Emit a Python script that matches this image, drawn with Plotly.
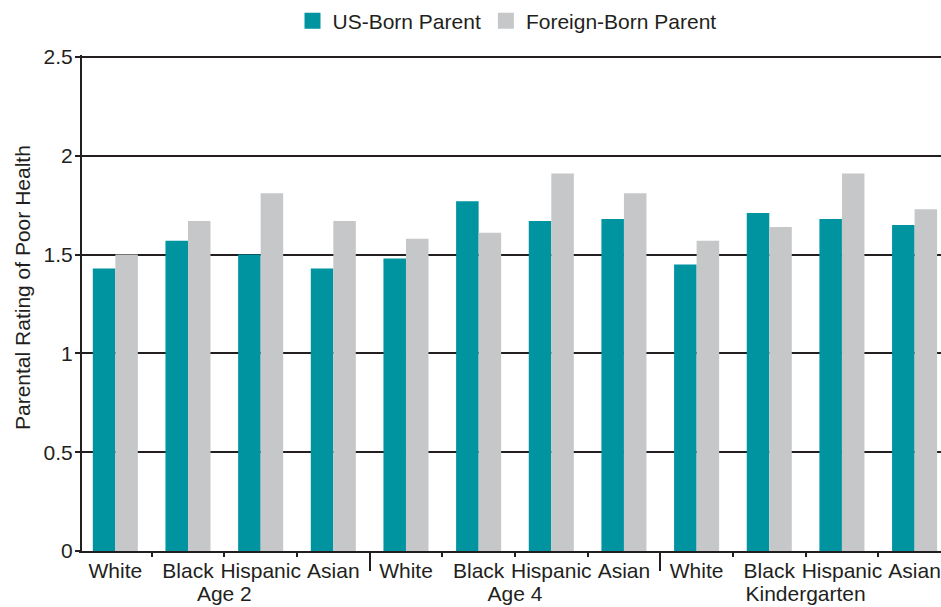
import numpy as np
import plotly.graph_objects as go

# ---- data ----
groups = ["Age 2", "Age 4", "Kindergarten"]
races = ["White", "Black", "Hispanic", "Asian"]
us_born = [1.43, 1.57, 1.50, 1.43, 1.48, 1.77, 1.67, 1.68, 1.45, 1.71, 1.68, 1.65]
foreign_born = [1.50, 1.67, 1.81, 1.67, 1.58, 1.61, 1.91, 1.81, 1.57, 1.64, 1.91, 1.73]
series_names = ["US-Born Parent", "Foreign-Born Parent"]
y_ticks = [0, 0.5, 1, 1.5, 2, 2.5]

# ---- styles ----
TEAL = "#0093a0"
GREY = "#c6c7c9"
DARK = "#231f20"
FONT = "Liberation Sans, Arial, sans-serif"
FS = 21

n_r = len(races)
pos = np.arange(len(groups) * n_r)
cat_labels = [r for g in groups for r in races]
group_pos = [g * n_r + (n_r - 1) / 2 for g in range(len(groups))]
minor_bounds = [p + 0.5 for p in pos[:-1] if (p + 1) % n_r != 0]
major_bounds = [p + 0.5 for p in pos[:-1] if (p + 1) % n_r == 0]

W, H = 941, 607
L, R, T, B = 79, 0, 55, 56
PW, PH = W - L - R, H - T - B
cat_w = 72.66
x_range = [-0.5, -0.5 + PW / cat_w]
px_per_unit = 197.6
y_range = [0, PH / px_per_unit]


def px_x(p):
    return (p - L) / PW


def px_y(p):
    return 1 - (p - T) / PH


fig = go.Figure()
fig.add_trace(go.Bar(x=pos, y=us_born, name=series_names[0], marker_color=TEAL,
                     marker_line_width=0, showlegend=False))
fig.add_trace(go.Bar(x=pos, y=foreign_born, name=series_names[1], marker_color=GREY,
                     marker_line_width=0, showlegend=False))
# legend entries with larger square swatches
for nm, col in zip(series_names, [TEAL, GREY]):
    fig.add_trace(go.Scatter(x=[None], y=[None], mode="markers", name=nm,
                             marker=dict(symbol="square", size=16, color=col)))

common_x = dict(range=x_range, fixedrange=True, showgrid=False, zeroline=False)
fig.update_layout(
    width=W, height=H,
    margin=dict(l=L, r=R, t=T, b=B, autoexpand=False),
    paper_bgcolor="white", plot_bgcolor="white",
    font=dict(family=FONT, size=FS, color=DARK),
    barmode="group", bargap=0.38, bargroupgap=0,
    showlegend=True,
    legend=dict(orientation="h", x=0.5 - 3 / PW, xanchor="center", y=px_y(21),
                yanchor="middle", font=dict(size=FS, color=DARK), itemsizing="trace",
                bgcolor="rgba(0,0,0,0)"),
    xaxis=dict(**common_x, tickmode="array", tickvals=minor_bounds,
               ticktext=[""] * len(minor_bounds), showticklabels=False,
               ticks="outside", ticklen=4, tickwidth=2, tickcolor=DARK,
               showline=True, linewidth=2, linecolor=DARK),
    xaxis2=dict(**common_x, overlaying="x", anchor="y", tickmode="array",
                tickvals=major_bounds, showticklabels=False,
                ticks="outside", ticklen=19, tickwidth=2, tickcolor=DARK,
                showline=False),
    xaxis3=dict(**common_x, overlaying="x", anchor="y", tickmode="array",
                tickvals=list(pos), ticktext=cat_labels,
                ticks="outside", ticklen=1, tickcolor="rgba(0,0,0,0)",
                tickfont=dict(size=FS, color=DARK), showline=False, tickangle=0),
    xaxis4=dict(**common_x, overlaying="x", anchor="y", tickmode="array",
                tickvals=group_pos, ticktext=groups,
                ticks="outside", ticklen=24, tickcolor="rgba(0,0,0,0)",
                tickfont=dict(size=FS, color=DARK), showline=False, tickangle=0),
    yaxis=dict(range=y_range, tickmode="array", tickvals=y_ticks,
               ticktext=[f"{v:g}" for v in y_ticks], fixedrange=True,
               anchor="free", position=2 / PW,
               showgrid=True, gridcolor=DARK, gridwidth=2, zeroline=False,
               ticks="outside", ticklen=5, tickwidth=2, tickcolor=DARK,
               showline=True, linewidth=2, linecolor=DARK, ticklabelstandoff=-2,
               tickfont=dict(size=FS, color=DARK)),
    annotations=[dict(text="Parental Rating of Poor Health", textangle=-90,
                      xref="paper", yref="paper", x=px_x(22),
                      y=px_y(288), xanchor="center", yanchor="middle",
                      showarrow=False, font=dict(size=FS, color=DARK))],
)
# dummy invisible traces so overlay axes render
for ax in ["x2", "x3", "x4"]:
    fig.add_trace(go.Scatter(x=[None], y=[None], xaxis=ax, yaxis="y",
                             showlegend=False, hoverinfo="skip"))

fig.write_html("out.html", config={"displayModeBar": False},
               post_script="document.body.style.margin='0px';"
                           "document.body.style.overflow='hidden';")
